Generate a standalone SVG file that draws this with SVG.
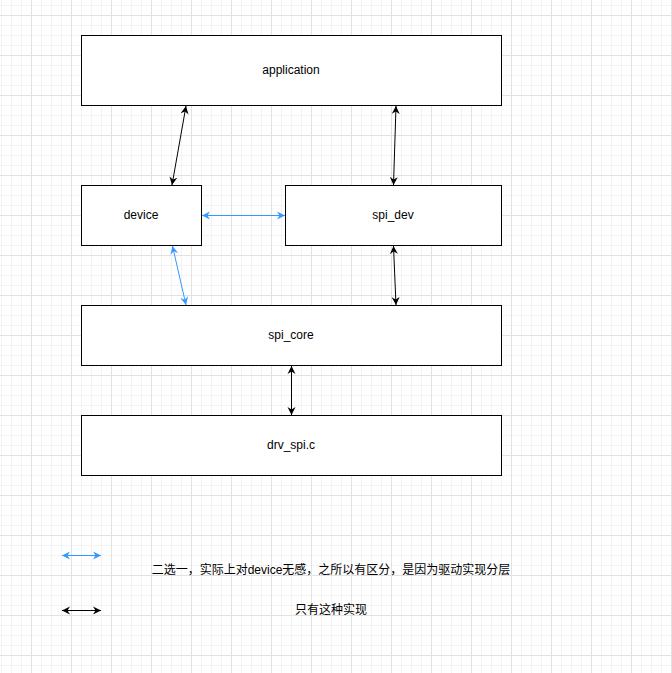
<svg xmlns="http://www.w3.org/2000/svg" width="672" height="673" viewBox="0 0 672 673">
  <defs>
    <pattern id="minor" x="1" y="5" width="10" height="10" patternUnits="userSpaceOnUse">
      <path d="M0.5,0 V10 M0,0.5 H10" stroke="#f3f3f3" stroke-width="1" fill="none"/>
    </pattern>
    <pattern id="major" x="31" y="15" width="40" height="40" patternUnits="userSpaceOnUse">
      <path d="M0.5,0 V40 M0,0.5 H40" stroke="#e2e2e2" stroke-width="1" fill="none"/>
    </pattern>
    <marker id="ab" viewBox="-8 -4.5 9 9" refX="0" refY="0" markerWidth="9" markerHeight="9" markerUnits="userSpaceOnUse" orient="auto-start-reverse">
      <path d="M0,0 L-8,-4 L-5.5,0 L-8,4 Z" fill="#000000"/>
    </marker>
    <marker id="au" viewBox="-8 -4.5 9 9" refX="0" refY="0" markerWidth="9" markerHeight="9" markerUnits="userSpaceOnUse" orient="auto-start-reverse">
      <path d="M0,0 L-8,-4 L-5.5,0 L-8,4 Z" fill="#3399FF"/>
    </marker>
  </defs>
  <style>
    .box { fill: #ffffff; stroke: #000000; stroke-width: 1; }
    .lbl { font-family: "Liberation Sans", Arial, "Noto Sans CJK SC", sans-serif; font-size: 12px; fill: #000000; text-anchor: middle; dominant-baseline: central; }
    .blk { stroke: #000000; stroke-width: 1; fill: none; marker-start: url(#ab); marker-end: url(#ab); }
    .blu { stroke: #3399FF; stroke-width: 1; fill: none; marker-start: url(#au); marker-end: url(#au); }
  </style>
  <rect width="672" height="673" fill="#ffffff"/>
  <rect width="672" height="673" fill="url(#minor)"/>
  <rect width="672" height="673" fill="url(#major)"/>

  <g id="application">
    <rect class="box" x="81.5" y="35.5" width="420" height="70"/>
    <text class="lbl" x="291" y="70">application</text>
  </g>
  <g id="device">
    <rect class="box" x="81.5" y="185.5" width="120" height="60"/>
    <text class="lbl" x="141" y="215">device</text>
  </g>
  <g id="spi_dev">
    <rect class="box" x="285.5" y="185.5" width="216" height="60"/>
    <text class="lbl" x="393" y="215">spi_dev</text>
  </g>
  <g id="spi_core">
    <rect class="box" x="81.5" y="305.5" width="420" height="60"/>
    <text class="lbl" x="291" y="335">spi_core</text>
  </g>
  <g id="drv_spi">
    <rect class="box" x="81.5" y="415.5" width="420" height="60"/>
    <text class="lbl" x="291" y="445">drv_spi.c</text>
  </g>

  <g id="connectors">
    <line class="blk" x1="186" y1="106" x2="172" y2="185"/>
    <line class="blk" x1="396" y1="106" x2="393.5" y2="185"/>
    <line class="blu" x1="202" y1="215.5" x2="285" y2="215.5"/>
    <line class="blu" x1="172.5" y1="246" x2="186" y2="305"/>
    <line class="blk" x1="393.5" y1="246" x2="396" y2="305"/>
    <line class="blk" x1="291.5" y1="366" x2="291.5" y2="415"/>
  </g>

  <g id="legend">
    <line class="blu" x1="62" y1="555.5" x2="101" y2="555.5"/>
    <line class="blk" x1="62" y1="610.5" x2="101" y2="610.5"/>
    <text class="lbl" x="331" y="570">二选一，实际上对device无感，之所以有区分，是因为驱动实现分层</text>
    <text class="lbl" x="331" y="610">只有这种实现</text>
  </g>
</svg>
